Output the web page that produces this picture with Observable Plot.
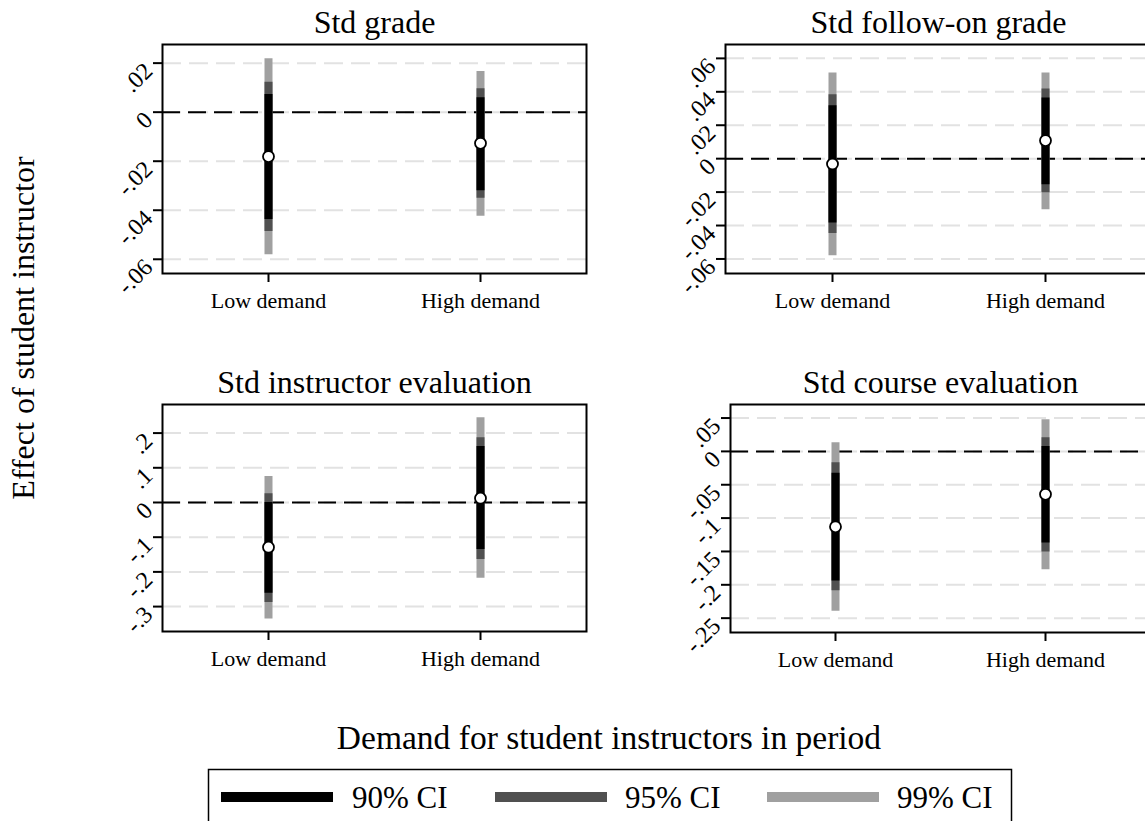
<!DOCTYPE html>
<html><head><meta charset="utf-8">
<script src="https://cdn.jsdelivr.net/npm/d3@7"></script>
<script src="https://cdn.jsdelivr.net/npm/@observablehq/plot@0.6"></script>
<style>
html,body{margin:0;padding:0;background:#fff;}
#root{position:relative;width:1145px;height:821px;overflow:hidden;background:#fff;font-family:"Liberation Serif","Times New Roman",serif;}
.panel{position:absolute;}
.panel svg{max-width:none !important;display:block;}
#overlay{position:absolute;left:0;top:0;}
</style></head><body><div id="root"></div>
<script>
// ---------- data ----------
const categories = ["Low demand", "High demand"];
const panelTitles = ["Std grade", "Std follow-on grade", "Std instructor evaluation", "Std course evaluation"];
// each: [lo99, lo95, lo90, estimate, hi90, hi95, hi99]
const gradeLow   = [-0.0582, -0.0487, -0.0438, -0.0181, 0.0072, 0.0122, 0.0218];
const gradeHigh  = [-0.0424, -0.0351, -0.0320, -0.0127, 0.0059, 0.0096, 0.0166];
const followLow  = [-0.0581, -0.0447, -0.0385, -0.0032, 0.0316, 0.0383, 0.0513];
const followHigh = [-0.0305, -0.0204, -0.0156, 0.0108, 0.0363, 0.0417, 0.0513];
const instrLow   = [-0.336, -0.288, -0.2614, -0.1288, 0.0, 0.025, 0.0749];
const instrHigh  = [-0.218, -0.164, -0.1354, 0.0124, 0.161, 0.1864, 0.244];
const courseLow  = [-0.2396, -0.2088, -0.1943, -0.1131, -0.0329, -0.0169, 0.013];
const courseHigh = [-0.1774, -0.151, -0.1375, -0.0643, 0.0075, 0.0205, 0.0474];
const gradeTicks  = [-0.06, -0.04, -0.02, 0, 0.02];
const followTicks = [-0.06, -0.04, -0.02, 0, 0.02, 0.04, 0.06];
const instrTicks  = [-0.3, -0.2, -0.1, 0, 0.1, 0.2];
const courseTicks = [-0.25, -0.2, -0.15, -0.1, -0.05, 0, 0.05];
const gradeDomain  = [-0.0658, 0.0276];
const followDomain = [-0.0687, 0.0683];
const instrDomain  = [-0.3718, 0.2824];
const courseDomain = [-0.2715, 0.0703];
const ciLabels = ["90% CI", "95% CI", "99% CI"];
const yTitle = "Effect of student instructor";
const xTitle = "Demand for student instructors in period";

// ---------- styles / layout ----------
const ciColors = {c90: "#000000", c95: "#505050", c99: "#a0a0a0"};
const FONT = '"Liberation Serif","Times New Roman",serif';
const root = document.getElementById("root");

const fmt = d => d === 0 ? "0" : String(+d.toFixed(4)).replace("0.", ".");

function rowsOf(low, high) {
  return [low, high].map((v, i) => ({
    cat: categories[i], lo99: v[0], lo95: v[1], lo90: v[2], est: v[3], hi90: v[4], hi95: v[5], hi99: v[6]
  }));
}

function panel(title, low, high, ticks, domain, box) {
  const mL = 100, mR = 10, mT = 44, mB = 52;
  const W = box.R - box.L, H = box.B - box.T;
  const rows = rowsOf(low, high);
  const svg = Plot.plot({
    width: W + mL + mR, height: H + mT + mB,
    marginLeft: mL, marginRight: mR, marginTop: mT, marginBottom: mB,
    style: {fontFamily: FONT, fontSize: "22px", color: "black", background: "transparent", overflow: "visible"},
    x: {type: "point", domain: categories, padding: 0.5, label: null},
    y: {domain, label: null},
    marks: [
      Plot.ruleY(ticks, {stroke: "#e2e2e2", strokeWidth: 2, strokeDasharray: "19,8"}),
      Plot.ruleY([0], {stroke: "black", strokeWidth: 2, strokeDasharray: "18,8"}),
      Plot.ruleX(rows, {x: "cat", y1: "lo99", y2: "hi99", stroke: ciColors.c99, strokeWidth: 8}),
      Plot.ruleX(rows, {x: "cat", y1: "lo95", y2: "hi95", stroke: ciColors.c95, strokeWidth: 8}),
      Plot.ruleX(rows, {x: "cat", y1: "lo90", y2: "hi90", stroke: ciColors.c90, strokeWidth: 8}),
      Plot.dot(rows, {x: "cat", y: "est", r: 5.5, fill: "white", stroke: "black", strokeWidth: 1.8}),
      Plot.frame({stroke: "black", strokeWidth: 2}),
      // y tick marks
      Plot.axisY({ticks, tickFormat: () => "", tickSize: 9, strokeWidth: 2, label: null}),
      // y tick labels (rotated, Stata style)
      Plot.axisY({ticks, tickFormat: fmt, tickRotate: -45, tickSize: 0, tickPadding: 12, lineAnchor: "middle",
                  dx: -2, dy: 4, fontSize: 24, label: null}),
      Plot.axisX({tickSize: 9, tickPadding: 10, strokeWidth: 2, label: null}),
      Plot.text([title], {text: d => d, frameAnchor: "top", dy: -22, fontSize: 32, lineAnchor: "middle", fill: "black"})
    ]
  });
  const div = document.createElement("div");
  div.className = "panel";
  div.style.left = (box.L - mL) + "px";
  div.style.top = (box.T - mT) + "px";
  div.style.width = (W + mL + mR) + "px";
  div.appendChild(svg);
  root.appendChild(div);
}

panel(panelTitles[0], gradeLow, gradeHigh, gradeTicks, gradeDomain, {L: 162, R: 586, T: 44, B: 273});
panel(panelTitles[1], followLow, followHigh, followTicks, followDomain, {L: 725, R: 1151, T: 44, B: 273});
panel(panelTitles[2], instrLow, instrHigh, instrTicks, instrDomain, {L: 162, R: 586, T: 404, B: 631});
panel(panelTitles[3], courseLow, courseHigh, courseTicks, courseDomain, {L: 730, R: 1150, T: 404, B: 632});

// ---------- overall titles and legend ----------
const ov = d3.select(root).append("svg").attr("id", "overlay")
  .attr("width", 1145).attr("height", 821).style("font-family", FONT);
ov.append("text").attr("transform", "translate(34,328) rotate(-90)")
  .attr("text-anchor", "middle").attr("font-size", 32).text(yTitle);
ov.append("text").attr("x", 609).attr("y", 749)
  .attr("text-anchor", "middle").attr("font-size", 33.5).text(xTitle);
ov.append("rect").attr("x", 208.5).attr("y", 769.5).attr("width", 803).attr("height", 80)
  .attr("fill", "none").attr("stroke", "black").attr("stroke-width", 1.5);
const legColors = [ciColors.c90, ciColors.c95, ciColors.c99];
const swX = [221, 495, 767], txX = [352, 625, 897];
ciLabels.forEach((lab, i) => {
  ov.append("rect").attr("x", swX[i]).attr("y", 792).attr("width", 112).attr("height", 10).attr("fill", legColors[i]);
  ov.append("text").attr("x", txX[i]).attr("y", 808).attr("font-size", 31).text(lab);
});
</script></body></html>
